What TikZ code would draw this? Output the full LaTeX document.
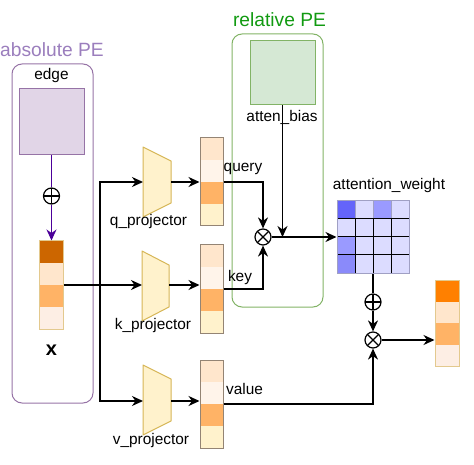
\documentclass[tikz,border=0pt]{standalone}
\usepackage{fontspec}
\setmainfont{Liberation Sans}
\usepackage{xcolor}
\usetikzlibrary{arrows.meta}

\definecolor{absline}{HTML}{9673A6}
\definecolor{abstext}{HTML}{9B7EBD}
\definecolor{edgefill}{HTML}{E1D5E7}
\definecolor{arrowpurple}{HTML}{4C0099}
\definecolor{relline}{HTML}{82B366}
\definecolor{reltext}{HTML}{119A11}
\definecolor{biasfill}{HTML}{D5E8D4}
\definecolor{projfill}{HTML}{FFF2CC}
\definecolor{projline}{HTML}{D6B656}
\definecolor{vecline}{HTML}{948474}
\definecolor{xvecline}{HTML}{E3C98E}
\definecolor{cDark}{HTML}{CC6600}
\definecolor{cOut}{HTML}{FF8000}
\definecolor{cPeach}{HTML}{FFE6CC}
\definecolor{cPale}{HTML}{FFF4EA}
\definecolor{cMid}{HTML}{FFB366}
\definecolor{cYel}{HTML}{FFF2CC}
\definecolor{cRose}{HTML}{FDEEE4}
\definecolor{wLight}{HTML}{DCDCFF}
\definecolor{wDark}{HTML}{6464FA}
\definecolor{wMid}{HTML}{9A9AFF}
\definecolor{wMid2}{HTML}{8A8AFA}
\definecolor{wBorder}{HTML}{A0A0C4}

\tikzset{
  lbl/.style={font=\fontsize{15.4}{18}\selectfont, inner sep=0pt},
  title/.style={font=\fontsize{19.2}{22}\selectfont, inner sep=0pt},
  group/.style={rounded corners=10pt, line width=1pt},
  conn/.style={draw=black, line width=1.5pt, -{Stealth[length=11pt,width=10pt,inset=3.5pt]}},
  wire/.style={draw=black, line width=1.5pt},
  proj/.style={fill=projfill, draw=projline, line width=1pt, line join=round},
  vecbox/.style={draw=vecline, line width=1pt, minimum width=23pt, minimum height=88pt, inner sep=0pt},
  op/.style={circle, draw=black, fill=white, line width=1.2pt, minimum size=16pt, inner sep=0pt},
  oplus/.style={op, path picture={\draw[line width=1.2pt] (path picture bounding box.north) -- (path picture bounding box.south) (path picture bounding box.west) -- (path picture bounding box.east);}},
  otimes/.style={op, path picture={\draw[line width=1.2pt] (path picture bounding box.north west) -- (path picture bounding box.south east) (path picture bounding box.north east) -- (path picture bounding box.south west);}},
}

\begin{document}
\begin{tikzpicture}[x=1pt,y=-1pt]
\useasboundingbox (0,0) rectangle (474,465);
% Drawing groups
% absolute PE
\draw[group, draw=absline] (12,64) rectangle (93,403);
\node[title, text=abstext] (abstitle) at (52,50) {absolute PE};
% relative PE
\draw[group, draw=relline] (232,34) rectangle (323,307);
\node[title, text=reltext] (reltitle) at (279.5,20) {relative PE};
% Done with groups; drawing inputs
\node[lbl] (edgelbl) at (51.5,76) {edge};
\node[fill=edgefill, draw=absline, line width=1pt, minimum width=65pt, minimum height=66pt, inner sep=0pt] (edge) at (51.5,122) {};
\node[fill=biasfill, draw=relline, line width=1pt, minimum width=65pt, minimum height=64pt, inner sep=0pt] (bias) at (282.5,73) {};
% x vector
\foreach \c [count=\i from 0] in {cDark,cPeach,cMid,cRose}
  \fill[\c] (39.5,{241+\i*22}) rectangle (63.5,{263+\i*22});
\node[vecbox, draw=xvecline, minimum width=24pt] (xv) at (51.5,285) {};
\node[font=\fontsize{20}{24}\selectfont\bfseries, inner sep=0pt] (xlbl) at (51.5,350) {x};
% Done with inputs; drawing projectors
% q_projector
\draw[proj] (143,147) -- (171,161) -- (171,203) -- (143,217) -- cycle;
\coordinate (qin) at (143,182);
\coordinate (qout) at (171,182);
\node[lbl] (qlbl) at (148.5,222) {q\_projector};
% k_projector
\draw[proj] (142,251) -- (169,265) -- (169,307) -- (142,321) -- cycle;
\coordinate (kin) at (142,285);
\coordinate (kout) at (169,285);
\node[lbl] (klbl) at (153,326) {k\_projector};
% v_projector
\draw[proj] (143,365) -- (171,379) -- (171,421) -- (143,435) -- cycle;
\coordinate (vin) at (143,401);
\coordinate (vout) at (171,401);
\node[lbl] (vlbl) at (151,441) {v\_projector};
% Done with projectors; drawing query, key, value
\foreach \y in {138,245,360}
  \foreach \c [count=\i from 0] in {cPeach,cPale,cMid,cYel}
    \fill[\c] (200,{\y+\i*22}) rectangle (223,{\y+22+\i*22});
\node[vecbox] (qv) at (211.5,182) {};
\node[vecbox] (kv) at (211.5,289) {};
\node[vecbox] (vv) at (211.5,404) {};
\node[lbl] (qtxt) at (243,169) {query};
\node[lbl] (ktxt) at (240,278) {key};
\node[lbl] (vtxt) at (244.5,389) {value};
% Done with vectors; drawing attention_weight
\fill[wLight] (337,201) rectangle (409,273);
\fill[wDark] (337,201) rectangle (355,219);
\fill[wMid] (373,201) rectangle (391,219);
\fill[wMid] (337,237) rectangle (355,255);
\fill[wMid2] (337,255) rectangle (355,273);
\draw[wBorder, line width=0.8pt] (355,201) -- (355,219) (373,201) -- (373,219) (391,201) -- (391,219);
\draw[black, line width=1pt] (337,219) -- (409,219) (337,237) -- (409,237) (337,255) -- (409,255)
  (355,219) -- (355,273) (373,219) -- (373,273) (391,219) -- (391,273);
\node[draw=wBorder, line width=1pt, minimum size=72pt, inner sep=0pt] (attn) at (373,237) {};
\node[lbl] (attnlbl) at (389,186) {attention\_weight};
% output vector
\foreach \c [count=\i from 0] in {cOut,cPeach,cMid,cRose}
  \fill[\c] (435,{280+\i*21.5}) rectangle (459,{301.5+\i*21.5});
\node[vecbox, draw=xvecline, minimum width=24pt, minimum height=86pt] (out) at (447,323) {};
% Done with vectors; drawing operators
\node[oplus] (plus1) at (51.5,196) {};
\node[otimes] (mul1) at (263,237) {};
\node[oplus] (plus2) at (373,302) {};
\node[otimes] (mul2) at (373,340) {};
\node[lbl] (biaslbl) at (282,117) {atten\_bias};
% Drawing connectors
\draw[line width=1.5pt, draw=arrowpurple] (edge.south) -- (plus1.north);
\draw[conn, draw=arrowpurple] (plus1.south) -- (xv.north);
\coordinate (split) at (100,285);
\draw[conn] (xv.east) -- (kin);
\draw[conn] (split) |- (qin);
\draw[conn] (split) |- (vin);
\draw[conn] (qout) -- (qout -| qv.west);
\draw[conn] (kout) -- (kout -| kv.west);
\draw[conn] (vout) -- (vout -| vv.west);
\draw[conn] (qv.east) -| (mul1.north);
\draw[conn] (kv.east) -| (mul1.south);
\draw[conn] (bias.south) -- (bias.south |- mul1.east);
\draw[conn] (mul1.east) -- (attn.west);
\draw[wire] (attn.south) -- (plus2.north);
\draw[conn] (plus2.south) -- (mul2.north);
\draw[conn] (vv.east) -| (mul2.south);
\draw[conn] (mul2.east) -- (mul2.east -| out.west);
% Done with connectors
\end{tikzpicture}
\end{document}
